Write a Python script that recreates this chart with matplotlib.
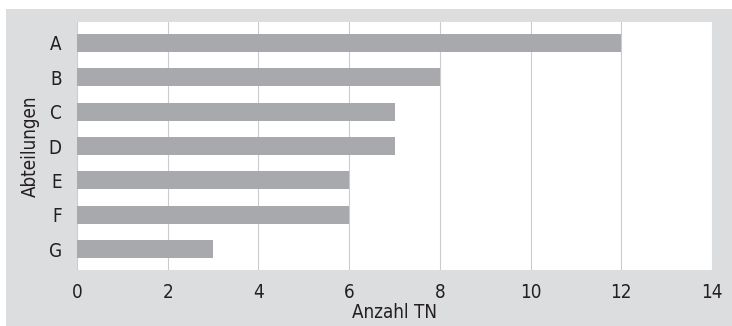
import matplotlib
matplotlib.use("Agg")
import matplotlib.pyplot as plt
from matplotlib.patches import Rectangle

# data
abteilungen = ["A", "B", "C", "D", "E", "F", "G"]
anzahl_tn = [12, 8, 7, 7, 6, 6, 3]
x_ticks = [0, 2, 4, 6, 8, 10, 12, 14]

plt.rcParams["font.family"] = ["DejaVu Sans"]
plt.rcParams["font.stretch"] = "condensed"
text_color = "#231f20"

fig = plt.figure(figsize=(7.32, 3.26), dpi=100)
# grey frame behind the chart
fig.patches.append(Rectangle((6 / 732, 0), 1, 1 - 9 / 326, transform=fig.transFigure,
                             facecolor="#dcdddf", edgecolor="none", zorder=-10))
ax = fig.add_axes([77 / 732, 1 - 270 / 326, 635 / 732, 248 / 326])
ax.set_zorder(1)
ax.set_facecolor("white")

ax.barh(abteilungen, anzahl_tn, height=0.52, color="#a7a9ac", zorder=3)
ax.set_xlim(0, 14)
ax.set_ylim(6.6, -0.6)
ax.set_xticks(x_ticks)
ax.grid(axis="x", color="#cccccc", linewidth=0.8, zorder=0)
ax.set_axisbelow(True)
for s in ax.spines.values():
    s.set_visible(False)
ax.tick_params(length=0, labelsize=13.5, colors=text_color)
ax.tick_params(axis="y", pad=11)
ax.tick_params(axis="x", pad=9)

ax.set_xlabel("Anzahl TN", fontsize=13.5, color=text_color, labelpad=1)
ax.set_ylabel("Abteilungen", fontsize=13.5, color=text_color, labelpad=6)

fig.savefig("out.png", dpi=100)
